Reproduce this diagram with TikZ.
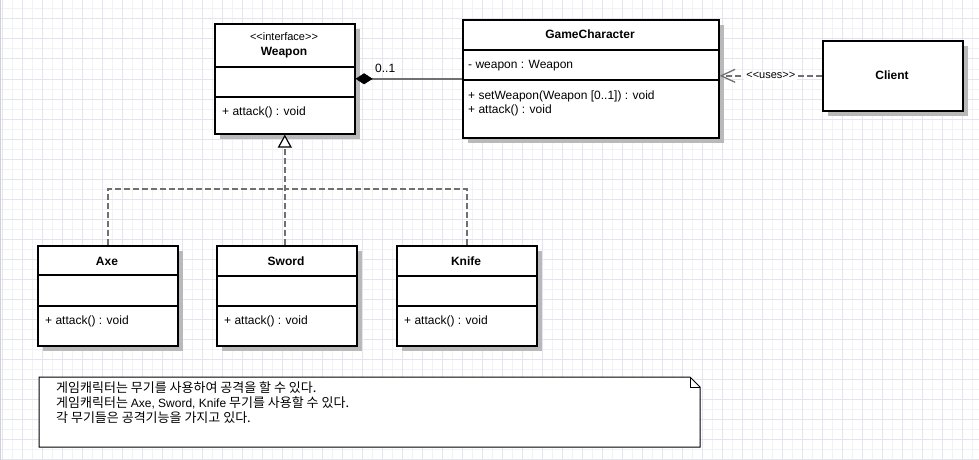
\documentclass[tikz,border=0pt]{standalone}
\usepackage{fontspec}
\setmainfont{Liberation Sans}
\newfontfamily\krfont{Noto Sans CJK KR}
\usetikzlibrary{shadows,arrows.meta}
\definecolor{gridmin}{RGB}{241,241,248}
\definecolor{gridmaj}{RGB}{228,228,240}
\definecolor{linegray}{RGB}{112,112,112}
\definecolor{shadowgray}{RGB}{185,185,185}
\begin{document}
\begin{tikzpicture}[x=1pt,y=-1pt,
  cls/.style={draw=black, line width=1.6pt, fill=white, inner sep=0pt, anchor=north west,
    drop shadow={shadow xshift=5pt, shadow yshift=-5pt, fill=shadowgray, opacity=1}},
  ttl/.style={font=\bfseries\fontsize{12}{14}\selectfont, anchor=base, inner sep=0pt},
  mem/.style={font=\fontsize{12}{14}\selectfont, anchor=base west, inner sep=0pt},
  stereo/.style={font=\fontsize{11}{13}\selectfont, anchor=base, inner sep=0pt},
  divline/.style={line width=1.6pt, draw=black},
  genline/.style={draw=linegray, line width=1.5pt, dash pattern=on 6pt off 3pt},
  depline/.style={draw=linegray, line width=1.5pt, dash pattern=on 6pt off 3pt},
  compline/.style={draw=linegray, line width=1.5pt},
  notetext/.style={font=\krfont\fontsize{13}{15}\selectfont, anchor=base west, inner sep=0pt}
]
\useasboundingbox (0,0) rectangle (979,460);
\fill[white] (0,0) rectangle (979,460);
% grid
\foreach \gx in {12,32,...,972} \draw[gridmin, line width=1pt] (\gx,0) -- (\gx,460);
\foreach \gy in {9,29,...,449} \draw[gridmin, line width=1pt] (0,\gy) -- (979,\gy);
\foreach \gx in {2,22,...,962} \draw[gridmaj, line width=1pt] (\gx,0) -- (\gx,460);
\foreach \gy in {19,39,...,459} \draw[gridmaj, line width=1pt] (0,\gy) -- (979,\gy);
\draw[gridmaj!80!gray, line width=1pt] (0.5,0) -- (0.5,460);

% Weapon
\node[cls, minimum width=140pt, minimum height=110pt] (weapon) at (214,23) {};
\draw[divline] (214,67) -- (354,67);
\draw[divline] (214,97) -- (354,97);
\node[stereo] (wst) at (284,41) {<\kern0pt<interface>\kern0pt>};
\node[ttl] (wtt) at (284,56) {Weapon};
\node[mem] (wm1) at (222,115) {+ attack() : void};

% GameCharacter
\node[cls, minimum width=256pt, minimum height=118pt] (gc) at (462,19) {};
\draw[divline] (462,50) -- (718,50);
\draw[divline] (462,80) -- (718,80);
\node[ttl] (gctt) at (590,38) {GameCharacter};
\node[mem] (gca1) at (468,68) {- weapon : Weapon};
\node[mem] (gcm1) at (468,99) {+ setWeapon(Weapon [0..1]) : void};
\node[mem] (gcm2) at (468,113) {+ attack() : void};

% Client
\node[cls, minimum width=140pt, minimum height=70pt] (client) at (822,40) {};
\node[ttl] (cltt) at (892,79) {Client};

% Axe
\node[cls, minimum width=140pt, minimum height=100pt] (axe) at (37,245) {};
\draw[divline] (37,275) -- (177,275);
\draw[divline] (37,306) -- (177,306);
\node[ttl] (axtt) at (107,265) {Axe};
\node[mem] (axm1) at (45,324) {+ attack() : void};

% Sword
\node[cls, minimum width=140pt, minimum height=100pt] (sword) at (216,245) {};
\draw[divline] (216,276) -- (356,276);
\draw[divline] (216,306) -- (356,306);
\node[ttl] (swtt) at (286,265) {Sword};
\node[mem] (swm1) at (224,324) {+ attack() : void};

% Knife
\node[cls, minimum width=140pt, minimum height=100pt] (knife) at (396,245) {};
\draw[divline] (396,276) -- (536,276);
\draw[divline] (396,306) -- (536,306);
\node[ttl] (kntt) at (466,265) {Knife};
\node[mem] (knm1) at (404,324) {+ attack() : void};

% composition
\draw[compline, {Diamond[color=black, length=17pt, width=11pt, line width=0.5pt]}-] (weapon.east) -- (gc.west);
\node[mem] (mult) at (375,72) {0..1};

% dependency
\draw[depline, -{Straight Barb[color=linegray, length=14pt, width=13pt, line width=1.3pt]}]
  (client.west) -- node[stereo, anchor=center, fill=white, inner xsep=2pt, inner ysep=1pt] (uses) {<\kern0pt<uses>\kern0pt>} (gc.east |- client.west);

% generalization
\coordinate (junction) at (284,189);
\draw[genline] (axe.north) |- (junction);
\draw[genline] (knife.north) |- (junction);
\draw[genline, -{Triangle[color=black, fill=white, length=13pt, width=14pt, line width=1.2pt]}]
  (weapon.south |- sword.north) -- (weapon.south);

% note
\draw[black, line width=1pt, fill=white] (39,377) -- (690,377) -- (700,387) -- (700,447) -- (39,447) -- cycle;
\draw[black, line width=1pt] (690,377) -- (690,387) -- (700,387);
\node[notetext] (n1) at (56,392) {게임캐릭터는 무기를 사용하여 공격을 할 수 있다.};
\node[notetext] (n2) at (56,407) {게임캐릭터는 {\rmfamily\fontsize{12}{15}\selectfont Axe, Sword, Knife} 무기를 사용할 수 있다.};
\node[notetext] (n3) at (56,422) {각 무기들은 공격기능을 가지고 있다.};
\end{tikzpicture}
\end{document}
